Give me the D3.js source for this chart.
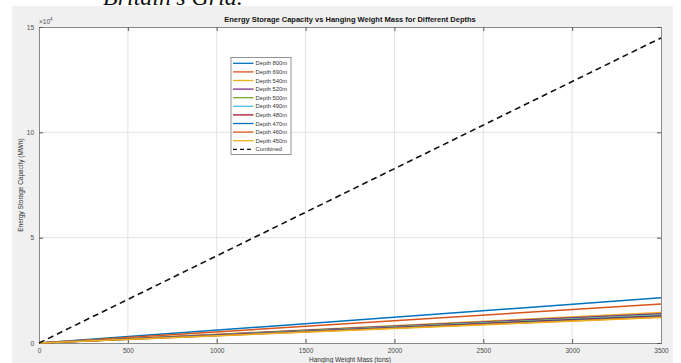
<!DOCTYPE html>
<html>
<head>
<meta charset="utf-8">
<script src="https://cdn.jsdelivr.net/npm/d3@7"></script>
<style>
body { margin: 0; background: #fff; }
svg { display: block; }
</style>
</head>
<body>
<svg id="chart" width="681" height="363"></svg>
<script>
// ---- data ----
const masses = [0, 3500];                       // hanging weight mass (tons)
const depthLabels = ["Depth 800m","Depth 690m","Depth 540m","Depth 520m","Depth 500m",
                     "Depth 490m","Depth 480m","Depth 470m","Depth 460m","Depth 450m"];
const depth800 = [0, 21450];
const depth690 = [0, 18500];
const depth540 = [0, 14480];
const depth520 = [0, 13940];
const depth500 = [0, 13410];
const depth490 = [0, 13140];
const depth480 = [0, 12870];
const depth470 = [0, 12600];
const depth460 = [0, 12330];
const depth450 = [0, 12070];
const combined = [0, 144800];
const xTicks = [0, 500, 1000, 1500, 2000, 2500, 3000, 3500];
const yTicks = [0, 50000, 100000, 150000];
const seriesColors = ["#0072BD","#D95319","#EDB120","#7E2F8E","#77AC30",
                      "#4DBEEE","#A2142F","#0072BD","#D95319","#EDB120"];

const seriesValues = [depth800, depth690, depth540, depth520, depth500,
                      depth490, depth480, depth470, depth460, depth450];

const svg = d3.select("#chart");
const font = "'Liberation Sans', Arial, sans-serif";

// page header fragment (cut off in the reference)
svg.append("text").attr("x", 103).attr("y", 5)
  .attr("font-family", "'Liberation Serif', 'Times New Roman', serif")
  .attr("font-style", "italic").attr("font-size", 24).attr("fill", "#111")
  .text("Britain's Grid.");

// figure background
svg.append("rect").attr("x", 12).attr("y", 6).attr("width", 661).attr("height", 357)
  .attr("fill", "#f0f0f0");

const L = 39, R = 661, T = 27, B = 343;
const x = d3.scaleLinear().domain([0, 3500]).range([L, R]);
const y = d3.scaleLinear().domain([0, 150000]).range([B, T]);

svg.append("rect").attr("x", L).attr("y", T).attr("width", R - L).attr("height", B - T)
  .attr("fill", "#fff");

// grid
const grid = svg.append("g");
grid.selectAll(".gx").data(xTicks.slice(1, -1)).join("line")
  .attr("x1", d => x(d)).attr("x2", d => x(d)).attr("y1", T).attr("y2", B)
  .attr("stroke", "#e3e3e3").attr("stroke-width", 1);
grid.selectAll(".gy").data(yTicks.slice(1, -1)).join("line")
  .attr("x1", L).attr("x2", R).attr("y1", d => y(d)).attr("y2", d => y(d))
  .attr("stroke", "#e3e3e3").attr("stroke-width", 1);

// axes
const axColor = "#8a8a8a";
const xAxis = svg.append("g").attr("transform", `translate(0,${B})`)
  .call(d3.axisBottom(x).tickValues(xTicks).tickSize(-4).tickPadding(5).tickFormat(d3.format("d")));
const xAxisTop = svg.append("g").attr("transform", `translate(0,${T})`)
  .call(d3.axisTop(x).tickValues(xTicks).tickSize(-4).tickFormat(""));
const yAxis = svg.append("g").attr("transform", `translate(${L},0)`)
  .call(d3.axisLeft(y).tickValues(yTicks).tickSize(-4).tickPadding(5).tickFormat(d => d / 10000));
const yAxisRight = svg.append("g").attr("transform", `translate(${R},0)`)
  .call(d3.axisRight(y).tickValues(yTicks).tickSize(-4).tickFormat(""));
[xAxis, xAxisTop, yAxis, yAxisRight].forEach(g => {
  g.select(".domain").attr("stroke", axColor).attr("stroke-width", 1);
  g.selectAll(".tick line").attr("stroke", "#555");
  g.selectAll("text").attr("font-family", font).attr("font-size", 6.5).attr("fill", "#4a4a4a");
});

// exponent label
const ex = svg.append("text").attr("x", 39).attr("y", 24)
  .attr("font-family", font).attr("font-size", 6.5).attr("fill", "#4a4a4a");
ex.append("tspan").text("\u00d710");
ex.append("tspan").attr("dy", -3).attr("font-size", 4.5).text("4");

// lines
const line = d3.line().x((d, i) => x(masses[i])).y(d => y(d));
const plot = svg.append("g");
seriesValues.forEach((vals, i) => {
  plot.append("path").datum(vals).attr("d", line)
    .attr("fill", "none").attr("stroke", seriesColors[i]).attr("stroke-width", 1.5);
});
plot.append("path").datum(combined).attr("d", line)
  .attr("fill", "none").attr("stroke", "#111").attr("stroke-width", 1.6)
  .attr("stroke-dasharray", "6,4");

// title and labels
svg.append("text").attr("x", 350).attr("y", 22).attr("text-anchor", "middle")
  .attr("font-family", font).attr("font-weight", "bold").attr("font-size", 7.5)
  .attr("fill", "#111").text("Energy Storage Capacity vs Hanging Weight Mass for Different Depths");
svg.append("text").attr("transform", "translate(23,185) rotate(-90)").attr("text-anchor", "middle")
  .attr("font-family", font).attr("font-size", 6.5).attr("fill", "#333")
  .text("Energy Storage Capacity (MWh)");
svg.append("text").attr("x", 350).attr("y", 362).attr("text-anchor", "middle")
  .attr("font-family", font).attr("font-size", 6.5).attr("fill", "#333")
  .text("Hanging Weight Mass (tons)");

// legend
const lg = svg.append("g");
lg.append("rect").attr("x", 231).attr("y", 57.5).attr("width", 60).attr("height", 97)
  .attr("fill", "#fff").attr("stroke", "#777").attr("stroke-width", 0.8);
const labels = depthLabels.concat(["Combined"]);
labels.forEach((lab, i) => {
  const yy = 63.3 + i * 8.6;
  const ln = lg.append("line").attr("x1", 233).attr("x2", 253.5).attr("y1", yy).attr("y2", yy)
    .attr("stroke", i < 10 ? seriesColors[i] : "#111").attr("stroke-width", 1.3);
  if (i === 10) ln.attr("stroke-dasharray", "4,3");
  lg.append("text").attr("x", 255.5).attr("y", yy + 2.1)
    .attr("font-family", font).attr("font-size", 5.8).attr("fill", "#333").text(lab);
});
</script>
</body>
</html>
